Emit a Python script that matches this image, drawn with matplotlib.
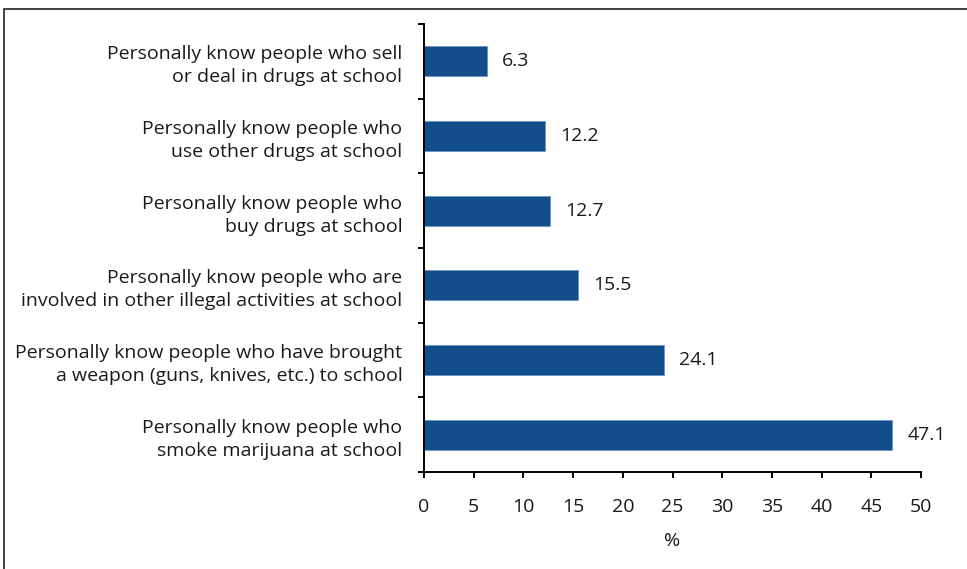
import matplotlib.pyplot as plt
from matplotlib.patches import Rectangle

labels = [
    "Personally know people who\nsmoke marijuana at school",
    "Personally know people who have brought\na weapon (guns, knives, etc.) to school",
    "Personally know people who are\ninvolved in other illegal activities at school",
    "Personally know people who\nbuy drugs at school",
    "Personally know people who\nuse other drugs at school",
    "Personally know people who sell\nor deal in drugs at school",
]
values = [47.1, 24.1, 15.5, 12.7, 12.2, 6.3]

plt.rcParams['font.family'] = ['Open Sans', 'DejaVu Sans']
txt_color = '#1a1a1a'
fs = 14

fig = plt.figure(figsize=(9.67, 5.69), dpi=100)
ax = fig.add_axes([424 / 967, 1 - 472 / 569, (921 - 424) / 967, (472 - 24) / 569])

pos = range(len(values))
ax.barh(pos, values, height=0.4, color='#114e8b', edgecolor='#6d93c0', linewidth=0.6)
for p, v in zip(pos, values):
    ax.annotate(f"{v:.1f}", (v, p), xytext=(11, 0), textcoords='offset points',
                va='center', ha='left', fontsize=fs, color=txt_color)

ax.set_xlim(0, 50)
ax.set_ylim(-0.5, len(values) - 0.5)
ax.set_xticks(range(0, 51, 5))
ax.set_yticks([i - 0.5 for i in range(len(values) + 1)])
ax.set_yticklabels([])
ax.set_yticks(list(pos), minor=True)
ax.set_yticklabels(labels, minor=True, fontsize=fs, color=txt_color, linespacing=1.35)
ax.tick_params(axis='y', which='minor', length=0, pad=15.5)
ax.tick_params(axis='y', which='major', length=4.5, width=1.4, direction='out')
ax.tick_params(axis='x', length=4.5, width=1.4, direction='out', labelsize=fs, pad=14,
               labelcolor=txt_color)
for lbl in ax.get_yticklabels(minor=True):
    lbl.set_horizontalalignment('right')

for side in ['top', 'right']:
    ax.spines[side].set_visible(False)
ax.spines['left'].set_linewidth(1.4)
ax.spines['bottom'].set_linewidth(1.4)

ax.set_xlabel('%', fontsize=fs, labelpad=12, color=txt_color)

# outer frame, running off the right and bottom edges
fig.patches.append(Rectangle((4 / 967, -0.05), 1.1, 1 - 9 / 569 + 0.05,
                             transform=fig.transFigure, fill=False,
                             edgecolor='#333333', linewidth=1.3))

fig.savefig('out.png', dpi=100)
